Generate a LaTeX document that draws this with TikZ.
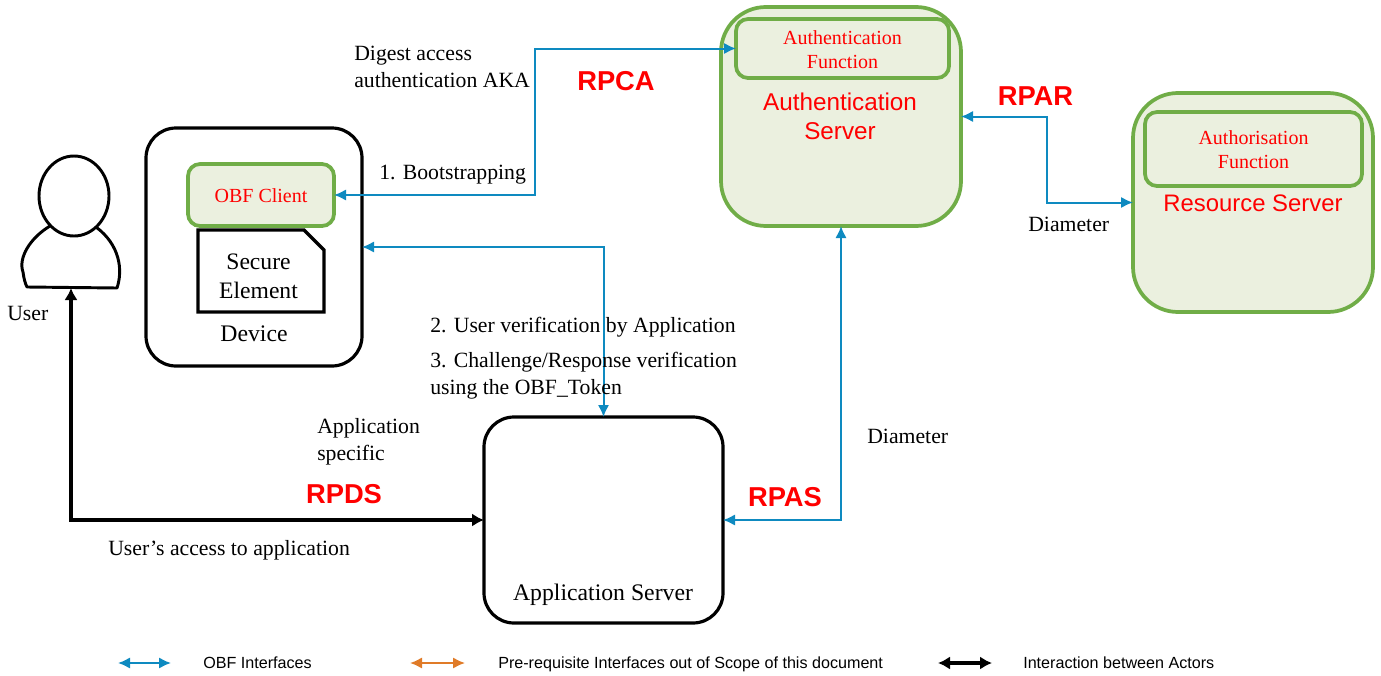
\documentclass[tikz,border=0pt]{standalone}
\usepackage{fontspec}
\setmainfont{Liberation Serif}
\setsansfont{Liberation Sans}
\usepackage{tikz}
\usetikzlibrary{shapes.misc,shapes.geometric,arrows.meta}
\definecolor{ifblue}{HTML}{0E8AC0}
\definecolor{iforange}{HTML}{E07B28}
\definecolor{boxgreen}{HTML}{70AD47}
\definecolor{boxfill}{HTML}{EBF0DF}
\def\px{0.75pt}
\tikzset{
  actorbox/.style={draw=black, line width=2.4pt, fill=white, rounded corners=30*\px, outer sep=0pt},
  serverbox/.style={draw=boxgreen, line width=2.8pt, fill=boxfill, rounded corners=45*\px, outer sep=0pt},
  funcbox/.style={draw=boxgreen, line width=2.8pt, fill=boxfill, rounded corners=12*\px, outer sep=0pt},
  functext/.style={inner sep=0pt, text=red, align=center, font=\fontsize{15}{18}\selectfont},
  obfline/.style={{Latex[length=9pt,width=8.5pt]}-{Latex[length=9pt,width=8.5pt]}, ifblue, line width=1.5pt},
  preline/.style={{Latex[length=9pt,width=8.5pt]}-{Latex[length=9pt,width=8.5pt]}, iforange, line width=1.5pt},
  actorline/.style={{Latex[length=9pt,width=10pt]}-{Latex[length=9pt,width=10pt]}, black, line width=2.3pt},
  txt/.style={anchor=west, align=left, inner sep=0pt, font=\fontsize{16.3}{20.25}\selectfont},
  rpname/.style={inner sep=0pt, text=red, font=\sffamily\bfseries\fontsize{20.5}{24}\selectfont},
  srvname/.style={inner sep=0pt, text=red, align=center, font=\sffamily\fontsize{18.2}{21.7}\selectfont},
  legend/.style={anchor=base west, inner sep=0pt, font=\sffamily\fontsize{12.1}{13}\selectfont}
}
\begin{document}
\begin{tikzpicture}[x=0.75pt, y=-0.75pt]
    \useasboundingbox (0,0) rectangle (1381,675);
    % actors
    \node[actorbox, minimum width=216*\px, minimum height=238*\px] (device) at (254,247) {};
    \node[actorbox, minimum width=239*\px, minimum height=206*\px] (appserver) at (603.5,520) {};
    \node[serverbox, minimum width=240*\px, minimum height=219*\px] (authserver) at (841,116.5) {};
    \node[serverbox, minimum width=240*\px, minimum height=219*\px] (resserver) at (1253,202.5) {};
    \node[funcbox, minimum width=146*\px, minimum height=62*\px] (client) at (261,195) {};
    \node[funcbox, minimum width=213*\px, minimum height=59*\px] (authfunc) at (842.5,48.5) {};
    \node[funcbox, minimum width=217*\px, minimum height=74*\px] (resfunc) at (1253.5,149) {};
    \node[functext] (clientname) at (261,196) {OBF Client};
    \node[functext] (authfuncname) at (842.5,49.5) {Authentication\\Function};
    \node[functext] (resfuncname) at (1253.5,150) {Authorisation\\Function};
    \node[draw, line width=2.4pt, chamfered rectangle, chamfered rectangle corners=north east,
      chamfered rectangle xsep=10*\px, chamfered rectangle ysep=10*\px, inner sep=0pt, outer sep=0pt,
      minimum width=126*\px, minimum height=82*\px, align=center,
      font=\fontsize{17.7}{21.7}\selectfont] (element) at (261,271) {\phantom{Secure}\\\phantom{Element}};
    \node[inner sep=0pt, align=center, font=\fontsize{17.7}{21.7}\selectfont] (elementname) at (258.5,276) {Secure\\Element};
    % user
    \draw[line width=2.2pt, fill=white, line join=round] (50,226) .. controls (30,238) and (18,258) .. (23,272)
      .. controls (24,279) and (25,283) .. (27,287) -- (117,288)
      .. controls (123,270) and (120,245) .. (96,227);
    \node[draw, line width=2.2pt, fill=white, ellipse, inner sep=0pt, outer sep=0pt,
      minimum width=70*\px, minimum height=80*\px] (head) at (74,196) {};
    \coordinate (userfoot) at (71,288);
    % interfaces
    \coordinate (bendca) at (535,120);
    \coordinate (bendar) at (1047,160);
    \draw[obfline] (client.east) -| (bendca) |- (authfunc.west);
    \draw[obfline] (device.east) -| (appserver.north);
    \draw[obfline] (authserver.east) -| (bendar) |- (resserver.west);
    \draw[obfline] (authserver.south) |- (appserver.east);
    \draw[actorline] (userfoot) |- (appserver.west);
    % names
    \node[srvname] (authname) at (840,116.5) {Authentication\\Server};
    \node[srvname, font=\sffamily\fontsize{17.9}{21.7}\selectfont] (resname) at (1253,203) {Resource Server};
    \node[inner sep=0pt, font=\fontsize{17.8}{21}\selectfont] (devname) at (254,333.5) {Device};
    \node[inner sep=0pt, font=\fontsize{17.8}{21}\selectfont] (appname) at (603,594.5) {Application Server};
    \node[rpname] (rpca) at (616,81) {RPCA};
    \node[rpname] (rpar) at (1035.5,96) {RPAR};
    \node[rpname] (rpds) at (344,494) {RPDS};
    \node[rpname] (rpas) at (785,497) {RPAS};
    % labels
    \node[txt] (userlabel) at (7,313) {User};
    \node[txt] (digest) at (354,67) {Digest access\\authentication AKA};
    \node[txt] (boot) at (379,174.5) {1. Bootstrapping};
    \node[txt] (verify) at (430,327.5) {2. User verification by Application};
    \node[txt] (challenge) at (430,375.5) {3. Challenge/Response verification\\using the OBF\_Token};
    \node[txt] (appspec) at (317,442) {Application\\specific};
    \node[txt] (access) at (108,550.5) {User's access to application};
    \node[txt] (diamright) at (1028,224) {Diameter};
    \node[txt] (diamleft) at (867,436) {Diameter};
    % legend
    \foreach \a/\b/\c/\st/\x/\t in {118/171/obf/obfline/203/OBF  Interfaces,
        410/465/pre/preline/498/Pre-requisite Interfaces out of Scope of this document,
        938/992/act/actorline/1023/Interaction between  Actors}
    {
        \coordinate (\c a) at (\a,663);
        \coordinate (\c b) at (\b,663);
        \draw[\st] (\c a) -- (\c b);
        \node[legend] (\c text) at (\x,668) {\t};
    }
\end{tikzpicture}
\end{document}
